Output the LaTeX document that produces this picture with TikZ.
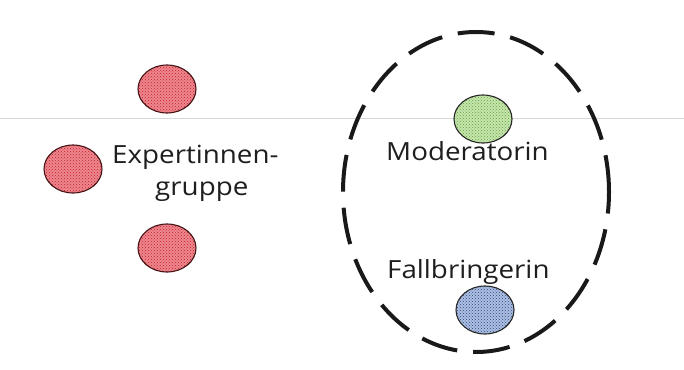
\documentclass[tikz,border=0pt]{standalone}
\usepackage{fontspec}
\setmainfont{Open Sans}
\usetikzlibrary{shapes.geometric,patterns}
\definecolor{redlight}{RGB}{238,135,142}
\definecolor{reddark}{RGB}{196,30,45}
\definecolor{greenlight}{RGB}{198,230,172}
\definecolor{greendark}{RGB}{100,160,70}
\definecolor{bluelight}{RGB}{172,192,228}
\definecolor{bluedark}{RGB}{50,70,120}
\definecolor{txt}{RGB}{30,30,30}
\definecolor{scanline}{RGB}{215,215,215}
\begin{document}
\begin{tikzpicture}[x=1pt,y=-1pt,
  circ/.style={ellipse, draw=black!85, line width=1.1pt, minimum width=58pt, minimum height=48pt, inner sep=0pt},
  redc/.style={circ, draw={rgb,255:red,70;green,20;blue,20}, preaction={fill=redlight}, pattern=crosshatch dots, pattern color=reddark},
  greenc/.style={circ, preaction={fill=greenlight}, pattern=crosshatch dots, pattern color=greendark},
  bluec/.style={circ, preaction={fill=bluelight}, pattern=crosshatch dots, pattern color=bluedark},
  lbl/.style={anchor=base west, inner sep=0pt, text=txt, font=\fontsize{25}{30}\selectfont},
  group/.style={ellipse, draw=black!90, line width=4pt, dash pattern=on 37pt off 16pt, minimum width=266pt, minimum height=320pt, inner sep=0pt}
]
\useasboundingbox (0,0) rectangle (684,369);
\fill[white] (0,0) rectangle (684,369);
\coordinate (lineL) at (0,118);
\coordinate (lineR) at (684,118);
\draw[scanline, line width=0.8pt] (lineL) -- (lineR);
\node[group] (grp) at (476,192) {};
\node[redc] (r1) at (167,89) {};
\node[redc] (r2) at (73,169) {};
\node[redc] (r3) at (167,248) {};
\node[greenc] (mod) at (483,119) {};
\node[bluec] (fall) at (485,310) {};
\node[lbl] (expA) at (112,163) {\scalebox{1.11}[1]{Expertinnen-}};
\node[lbl] (expB) at (155,195) {\scalebox{1.11}[1]{gruppe}};
\node[lbl] (modt) at (386,160) {\scalebox{1.11}[1]{Moderatorin}};
\node[lbl] (fallt) at (387,278) {\scalebox{1.11}[1]{Fallbringerin}};
\end{tikzpicture}
\end{document}
